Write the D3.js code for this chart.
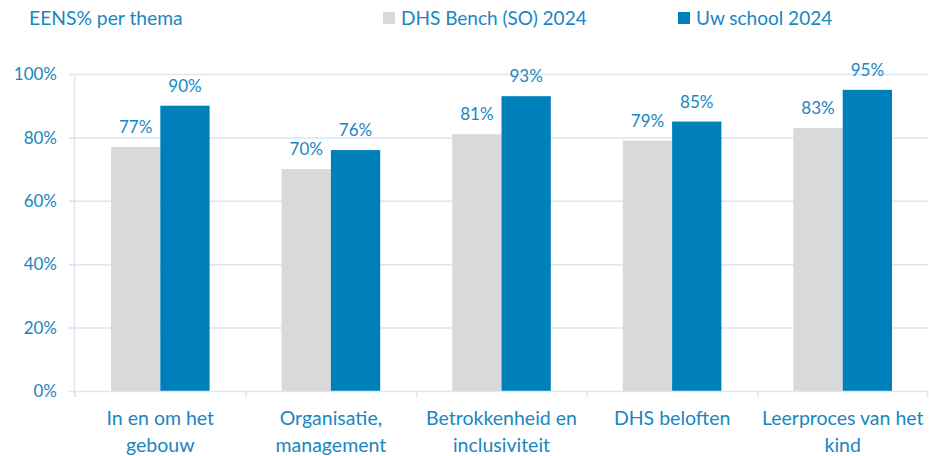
<!DOCTYPE html>
<html><head><meta charset="utf-8">
<script src="https://cdn.jsdelivr.net/npm/d3@7"></script>
<style>body{margin:0;background:#fff}svg{display:block}text{font-family:Lato,"Open Sans",sans-serif}</style>
</head><body><svg id="c" width="929" height="456"></svg>
<script>
const categories = [["In en om het","gebouw"],["Organisatie,","management"],["Betrokkenheid en","inclusiviteit"],["DHS beloften"],["Leerproces van het","kind"]];
const seriesNames = ["DHS Bench (SO) 2024","Uw school 2024"];
const benchValues = [77,70,81,79,83];
const schoolValues = [90,76,93,85,95];
const yTicks = [0,20,40,60,80,100];
const colors = ["#D9D9D9","#0080BA"];
const textColor = "#1A86C0";

const svg = d3.select("#c");
const x0 = 75, x1 = 928, yTop = 74, yBot = 391;
const x = d3.scaleBand().domain(d3.range(categories.length)).range([x0,x1]).paddingInner(0).paddingOuter(0);
const xs = d3.scaleBand().domain([0,1]).range([0,x.bandwidth()]).paddingOuter(0.73).paddingInner(0);
const y = d3.scaleLinear().domain([0,100]).range([yBot,yTop]);

// gridlines
svg.append("g").selectAll("line").data(yTicks.filter(d=>d>0)).join("line")
  .attr("x1",69).attr("x2",x1).attr("y1",d=>y(d)+0.5).attr("y2",d=>y(d)+0.5)
  .attr("stroke","#DCE5F1").attr("stroke-width",1.5);
// y tick marks
svg.append("g").selectAll("line").data(yTicks).join("line")
  .attr("x1",69).attr("x2",74).attr("y1",d=>y(d)+0.5).attr("y2",d=>y(d)+0.5)
  .attr("stroke","#DCE5F1").attr("stroke-width",1.5);
// y axis labels
svg.append("g").selectAll("text").data(yTicks).join("text")
  .attr("x",57).attr("y",d=>y(d)).attr("dy","0.36em").attr("text-anchor","end")
  .attr("fill",textColor).attr("font-size",17).text(d=>d+"%");

const series = [benchValues, schoolValues];
series.forEach((vals,si)=>{
  svg.append("g").selectAll("rect").data(vals).join("rect")
    .attr("x",(d,i)=>x(i)+xs(si)).attr("width",xs.bandwidth())
    .attr("y",d=>y(d)).attr("height",d=>yBot-y(d)).attr("fill",colors[si]);
  svg.append("g").selectAll("text").data(vals).join("text")
    .attr("x",(d,i)=>x(i)+xs(si)+xs.bandwidth()/2).attr("y",d=>y(d)-14)
    .attr("text-anchor","middle").attr("fill",textColor).attr("font-size",17).text(d=>d+"%");
});

// axes lines
svg.append("line").attr("x1",74.5).attr("x2",74.5).attr("y1",yTop).attr("y2",397).attr("stroke","#DCE9F3").attr("stroke-width",1.5);
svg.append("line").attr("x1",69).attr("x2",x1).attr("y1",yBot+0.5).attr("y2",yBot+0.5).attr("stroke","#DCE9F3").attr("stroke-width",1.5);
svg.append("g").selectAll("line").data(d3.range(categories.length+1)).join("line")
  .attr("x1",i=>i<categories.length?x(i)+0.5:x1-0.5).attr("x2",i=>i<categories.length?x(i)+0.5:x1-0.5)
  .attr("y1",yBot).attr("y2",397).attr("stroke","#DCE9F3").attr("stroke-width",1.5);

// x labels
const xl = svg.append("g").selectAll("text").data(categories).join("text")
  .attr("text-anchor","middle").attr("fill",textColor).attr("font-size",19.5)
  .attr("transform",(d,i)=>`translate(${x(i)+x.bandwidth()/2},0)`);
xl.selectAll("tspan").data(d=>d).join("tspan").attr("x",0).attr("y",(d,j)=>425+j*26.5).text(d=>d);

// title
svg.append("text").attr("x",29).attr("y",25).attr("fill",textColor).attr("font-size",19.3).text("EENS% per thema");
// legend
const legX = [383,678];
seriesNames.forEach((n,i)=>{
  svg.append("rect").attr("x",legX[i]).attr("y",12).attr("width",12).attr("height",12).attr("fill",colors[i]);
  svg.append("text").attr("x",legX[i]+18).attr("y",25).attr("fill",textColor).attr("font-size",19).text(n);
});
</script></body></html>
